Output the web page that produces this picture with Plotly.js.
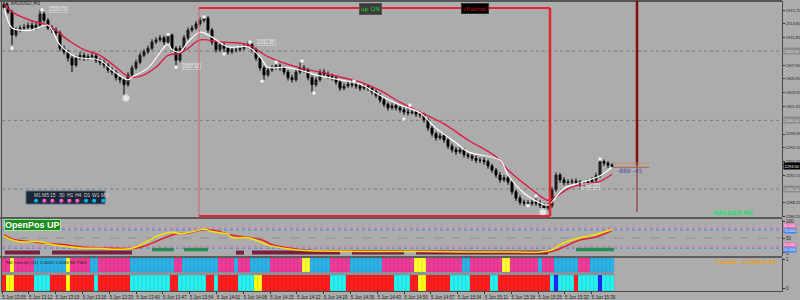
<!DOCTYPE html>
<html><head><meta charset="utf-8">
<script src="https://cdn.plot.ly/plotly-3.0.1.min.js"></script>
<style>html,body{margin:0;padding:0;background:#acacac;overflow:hidden}#chart{width:800px;height:300px}</style>
</head><body><div id="chart"></div>
<script>
// ---------- DATA ----------
const openP = [
2316.6,2316.1,2315.5,2312.2,2312.9,2313.2,2313.3,2313.6,2313.2,2313.6,
2315.2,2314.3,2313.2,2312.9,2312.5,2310.3,2309.8,2308.9,2307.9,2308.9,
2309.3,2308.9,2309.1,2309.2,2308.6,2308.3,2307.9,2307.2,2306.9,2306.1,
2305.8,2305.1,2306.5,2307.5,2308.3,2309.3,2309.8,2310.3,2311.2,2311.5,
2311.8,2311.2,2312.2,2310.3,2308.6,2310.3,2311.8,2312.9,2313.2,2313.8,
2314.3,2314.6,2312.9,2311.2,2310.1,2310.8,2310.3,2309.8,2310.1,2310.1,
2310.3,2310.6,2310.8,2310.1,2308.9,2307.5,2306.5,2307.2,2307.5,2307.8,
2307.5,2306.9,2306.1,2305.8,2306.9,2307.5,2307.2,2306.1,2305.1,2305.8,
2306.9,2306.6,2306.3,2306.1,2305.5,2304.6,2304.9,2305.2,2305.1,2304.9,
2304.6,2304.9,2304.6,2304.1,2303.6,2302.9,2302.3,2301.8,2302.1,2301.8,
2301.5,2301.2,2301.1,2301.2,2300.9,2300.8,2300.1,2298.9,2298.1,2297.5,
2297.8,2297.2,2296.3,2295.8,2295.5,2295.8,2295.1,2294.9,2294.6,2294.3,
2294.3,2294.1,2293.5,2292.9,2292.2,2291.5,2291.8,2291.2,2289.8,2288.9,
2288.3,2288.2,2288.1,2288.3,2288.2,2287.9,2287.5,2287.8,2290.1,2292.2,
2291.5,2291.1,2291.2,2291.3,2291.2,2290.9,2290.9,2291.2,2291.5,2292.1,
2294.1,2293.9,2293.6];
const closeP = [
2316.1,2315.5,2312.2,2312.9,2313.2,2313.3,2313.6,2313.2,2313.6,2315.2,
2314.3,2313.2,2312.9,2312.5,2310.3,2309.8,2308.9,2307.9,2308.9,2309.3,
2308.9,2309.1,2309.2,2308.6,2308.3,2307.9,2307.2,2306.9,2306.1,2305.8,
2305.1,2306.5,2307.5,2308.3,2309.3,2309.8,2310.3,2311.2,2311.5,2311.8,
2311.2,2312.2,2310.3,2308.6,2310.3,2311.8,2312.9,2313.2,2313.8,2314.3,
2314.6,2312.9,2311.2,2310.1,2310.8,2310.3,2309.8,2310.1,2310.1,2310.3,
2310.6,2310.8,2310.1,2308.9,2307.5,2306.5,2307.2,2307.5,2307.8,2307.5,
2306.9,2306.1,2305.8,2306.9,2307.5,2307.2,2306.1,2305.1,2305.8,2306.9,
2306.6,2306.3,2306.1,2305.5,2304.6,2304.9,2305.2,2305.1,2304.9,2304.6,
2304.9,2304.6,2304.1,2303.6,2302.9,2302.3,2301.8,2302.1,2301.8,2301.5,
2301.2,2301.1,2301.2,2300.9,2300.8,2300.1,2298.9,2298.1,2297.5,2297.8,
2297.2,2296.3,2295.8,2295.5,2295.8,2295.1,2294.9,2294.6,2294.3,2294.3,
2294.1,2293.5,2292.9,2292.2,2291.5,2291.8,2291.2,2289.8,2288.9,2288.3,
2288.2,2288.1,2288.3,2288.2,2287.9,2287.5,2287.8,2290.1,2292.2,2291.5,
2291.1,2291.2,2291.3,2291.2,2290.9,2290.9,2291.2,2291.5,2292.1,2294.1,
2293.9,2293.6,2293.5];
const highP = [
2316.9,2316.4,2315.8,2313.3,2313.6,2313.8,2314.0,2314.0,2314.1,2315.8,
2315.5,2314.6,2313.6,2313.3,2312.8,2310.7,2310.1,2309.2,2309.3,2309.8,
2309.7,2309.5,2309.6,2309.5,2308.9,2308.7,2308.2,2307.6,2307.2,2306.5,
2306.1,2306.9,2307.9,2308.7,2309.7,2310.2,2310.7,2311.6,2311.9,2312.2,
2312.1,2312.6,2312.4,2310.6,2310.7,2312.2,2313.3,2313.6,2314.2,2314.7,
2315.1,2314.9,2313.2,2311.5,2311.2,2311.1,2310.6,2310.5,2310.5,2310.7,
2311.0,2311.3,2311.1,2310.4,2309.2,2307.8,2307.6,2307.9,2308.4,2308.1,
2307.8,2307.2,2306.5,2307.3,2308.3,2307.9,2307.5,2306.4,2306.2,2307.3,
2307.3,2307.0,2306.7,2306.4,2305.8,2305.3,2305.6,2305.8,2305.5,2305.2,
2305.3,2305.2,2304.9,2304.4,2303.9,2303.2,2302.6,2302.5,2302.4,2302.1,
2301.9,2302.1,2301.6,2301.5,2301.3,2301.1,2300.4,2299.2,2298.4,2298.2,
2298.1,2297.5,2296.7,2296.2,2296.2,2296.1,2295.5,2295.3,2295.0,2294.7,
2294.7,2294.4,2293.8,2293.2,2292.6,2292.2,2292.1,2291.5,2290.1,2289.3,
2288.7,2288.6,2288.7,2289.2,2288.6,2288.2,2288.2,2290.5,2292.6,2292.5,
2291.9,2291.6,2291.7,2291.7,2291.5,2291.3,2291.6,2291.9,2292.5,2294.6,
2294.4,2294.2,2293.9];
const lowP = [
2315.8,2315.2,2310.8,2311.9,2312.6,2312.8,2313.0,2312.8,2312.9,2313.3,
2314.0,2312.9,2312.5,2312.1,2309.9,2309.4,2308.4,2306.9,2307.6,2308.6,
2308.5,2308.6,2308.8,2308.2,2307.9,2307.5,2306.8,2306.5,2305.7,2305.3,
2303.5,2304.8,2306.2,2307.2,2308.0,2309.0,2309.5,2310.0,2310.9,2311.2,
2310.8,2310.9,2309.9,2307.8,2308.3,2310.0,2311.5,2312.6,2312.9,2313.5,
2314.0,2312.5,2310.8,2309.7,2309.8,2309.3,2309.4,2309.5,2309.7,2309.8,
2310.0,2310.3,2309.7,2308.5,2307.1,2305.8,2306.2,2306.9,2307.2,2307.1,
2306.5,2305.7,2305.4,2305.5,2306.6,2306.8,2305.7,2304.1,2304.8,2305.5,
2306.2,2305.9,2305.7,2305.1,2304.2,2304.3,2304.6,2304.7,2304.5,2304.2,
2304.3,2304.2,2303.7,2303.2,2302.5,2301.9,2301.4,2301.5,2301.4,2301.1,
2300.8,2300.7,2300.8,2300.5,2300.4,2299.7,2298.5,2297.7,2297.1,2297.2,
2296.8,2295.9,2295.4,2295.1,2295.2,2294.7,2294.5,2294.2,2293.9,2293.9,
2293.7,2293.1,2292.5,2291.8,2291.1,2291.2,2290.8,2289.4,2288.5,2287.9,
2287.8,2287.6,2287.8,2287.8,2287.5,2286.9,2287.2,2287.5,2289.8,2291.1,
2290.7,2290.8,2290.9,2290.8,2290.5,2290.5,2290.8,2291.1,2291.2,2291.8,
2293.5,2293.2,2293.2];

// moving averages
const maFastIdx = [0,2,4,7,11,14,18,24,27,31,32,36,41,42,44,46,49,52,56,61,64,66,70,74,78,84,89,94,99,104,108,113,116,124,126,130,134,136,140,143,149,152];
const maFastVal = [2316.1,2313.2,2312.9,2312.9,2313.6,2310.8,2309.1,2308.6,2307.2,2305.8,2306.2,2307.5,2310.9,2310.1,2309.8,2311.2,2312.6,2311.9,2310.5,2310.5,2309.1,2307.6,2307.6,2307.2,2306.5,2305.8,2305.2,2303.6,2302.2,2301.1,2298.9,2296.8,2295.5,2294.3,2292.2,2289.6,2288.2,2287.9,2290.3,2290.9,2292.1,2293.3];
const maSlowIdx = [0,2,7,11,16,20,24,28,31,34,38,41,44,46,49,54,61,66,70,74,79,84,89,94,99,104,110,116,123,126,132,136,138,142,149,152];
const maSlowVal = [2316.6,2315.5,2314.2,2313.6,2311.5,2310.1,2309.3,2307.6,2306.3,2306.3,2307.6,2309.3,2309.6,2310.3,2311.5,2311.2,2310.8,2309.1,2308.2,2307.5,2306.9,2306.2,2305.5,2304.3,2302.6,2301.2,2299.5,2297.2,2294.8,2292.9,2290.1,2288.6,2289.1,2290.5,2291.3,2292.3];

// fractal markers
const fractalIdx = [2,9.5,41,43,50,55,61.5,64.5,68,74.5,77.5,87.5,100,101.5,131,133,149];
const fractalPrice = [2310.3,2315.8,2312.3,2307.6,2314.8,2309.5,2311.2,2305.6,2308.3,2308.5,2303.9,2305.6,2300.2,2302.2,2287.8,2289.2,2294.5];
const bigMarkIdx = [30.5,134.75];
const bigMarkPrice = [2303.2,2286.9];
const priceNotes = [[13.5,2315.8,'2315.79'],[46.8,2307.7,'2307.62'],[65.6,2311.2,'2311.35'],[146.5,2290.6,'2291.22']];

// oscillator (panel 2)
const oscYellowIdx = [0,1,4,9,12,16,20,24,28,32,35,38,42,44,47,50,52,56,57,61,64,66,70,75,85,95,105,115,125,134,137,139,142,145,149,152];
const oscYellowVal = [56,49,39,39,31,24,20,20,17,20,34,54,67,62,68,76,69,61,51,51,39,29,20,13,11,10,10,9,9,9,15,30,44,53,64,74];
const oscRedIdx = [0,2,9,16,20,28,33,36,40,43,46,50,53,57,61,65,67,71,76,90,110,134,137,140,144,148,152];
const oscRedVal = [60,47,36,29,23,20,20,30,50,62,64,74,71,58,52,42,30,21,14,12,11,7,10,24,44,53,72];
const sigMaroon = [[0.2,9],[12,32],[58,60],[62,84],[87,100],[103,136]];
const sigGreen = [[37,42.5],[45,51],[143,152.5]];
const levelMaroon = 7, levelGreen = 16;
const oscLevels = [[80,'#ea68b0','80.0000',1.5],[74,'#3f86ea','74.0000',-1.5],[26,'#ea68b0','26.0000',1.5],[20,'#3f86ea','20.0000',-1.5]];

// colour strips (panel 3), run-length per candle
const upperRuns = [['P',2],['Y',1],['P',5],['B',8],['Y',1],['P',5],['B',2],['P',8],['B',11],['P',2],['B',9],['P',4],['B',1],['P',3],['B',5],['P',8],['Y',2],['B',5],['P',5],['B',8],['P',8],['Y',3],['P',9],['B',2],['P',8],['Y',2],['P',7],['B',1],['P',3],['B',6],['P',3],['B',6]];
const lowerRuns = [['R',1],['Y',2],['R',5],['C',4],['R',4],['Y',1],['R',6],['C',1],['R',8],['C',10],['R',2],['C',7],['R',2],['C',1],['R',5],['C',4],['Y',2],['R',17],['C',4],['R',12],['C',4],['R',2],['Y',2],['R',6],['C',5],['R',5],['C',2],['R',13],['C',1],['D',1],['C',4],['R',1],['C',5],['D',1],['C',3]];

// axis labels
const priceTicks = [2315.75,2313.80,2311.85,2309.90,2307.90,2305.95,2303.95,2301.95,2300.00,2298.05,2296.10,2294.15,2292.15,2290.20,2288.25,2286.25];
const gridPrices = [2309.90,2300.00,2290.20];
const lastPrice = 2293.50;
const timeLabels = ['5 Jun 13:05','5 Jun 13:12','5 Jun 13:19','5 Jun 13:26','5 Jun 13:33','5 Jun 13:40','5 Jun 13:47','5 Jun 13:54','5 Jun 14:01','5 Jun 14:08','5 Jun 14:15','5 Jun 14:22','5 Jun 14:29','5 Jun 14:36','5 Jun 14:43','5 Jun 14:50','5 Jun 14:57','5 Jun 15:04','5 Jun 15:11','5 Jun 15:18','5 Jun 15:25','5 Jun 15:32','5 Jun 15:39'];
const tfLabels = ['M1','M5','15','30','H1','H4','D1','W1','MN'];
const tfState = ['B','P','P','P','P','P','B','B','B'];

// ---------- BUILD ----------
const idx = closeP.map((_, i) => i);
const expand = runs => { const o = []; runs.forEach(([c, k]) => { for (let j = 0; j < k; j++) o.push(c); }); return o; };
const upperCodes = expand(upperRuns), lowerCodes = expand(lowerRuns);
const upCol = {P:'#f03c98', B:'#2cb3ea', Y:'#ffff2e'};
const loCol = {R:'#ff1e1e', C:'#28f0f0', Y:'#ffff14', D:'#2424ff'};
const segXY = (segs, lvl) => { const xs = [], ys = []; segs.forEach(([a, b]) => { xs.push(a, b, null); ys.push(lvl, lvl, null); }); return {xs, ys}; };
const mar = segXY(sigMaroon, levelMaroon), grn = segXY(sigGreen, levelGreen);

const xp = px => (px - 2) / 780;         // pixel -> paper x
const yp = py => (291 - py) / 290;       // pixel -> paper y

const traces = [
  {type:'candlestick', x:idx, open:openP, high:highP, low:lowP, close:closeP, xaxis:'x', yaxis:'y',
   increasing:{line:{color:'#161616', width:1}, fillcolor:'#262626'},
   decreasing:{line:{color:'#000', width:1}, fillcolor:'#000'}, whiskerwidth:0, hoverinfo:'skip'},
  {type:'scatter', mode:'lines', x:maSlowIdx, y:maSlowVal, xaxis:'x', yaxis:'y', line:{color:'#dc1d45', width:1.4, shape:'spline', smoothing:1}, hoverinfo:'skip'},
  {type:'scatter', mode:'lines', x:maFastIdx, y:maFastVal, xaxis:'x', yaxis:'y', line:{color:'#ffffff', width:1.2, shape:'spline', smoothing:1}, hoverinfo:'skip'},
  {type:'scatter', mode:'markers', x:fractalIdx, y:fractalPrice, xaxis:'x', yaxis:'y', marker:{size:4, color:'#f6f6f6', line:{color:'#999', width:0.5}}, hoverinfo:'skip'},
  {type:'scatter', mode:'markers', x:bigMarkIdx, y:bigMarkPrice, xaxis:'x', yaxis:'y', marker:{size:7, color:'#e4e4e4', line:{color:'#c4c4c4', width:1}}, hoverinfo:'skip'},
  {type:'scatter', mode:'lines', x:mar.xs, y:mar.ys, xaxis:'x', yaxis:'y2', line:{color:'#7a1f42', width:4}, connectgaps:false, hoverinfo:'skip'},
  {type:'scatter', mode:'lines', x:grn.xs, y:grn.ys, xaxis:'x', yaxis:'y2', line:{color:'#2a8c55', width:3.5}, connectgaps:false, hoverinfo:'skip'},
  {type:'scatter', mode:'lines', x:oscRedIdx, y:oscRedVal, xaxis:'x', yaxis:'y2', line:{color:'#e4202c', width:1.5, shape:'spline'}, hoverinfo:'skip'},
  {type:'scatter', mode:'lines', x:oscYellowIdx, y:oscYellowVal, xaxis:'x', yaxis:'y2', line:{color:'#f2e400', width:1.5, shape:'spline'}, hoverinfo:'skip'},
  {type:'bar', x:idx, y:idx.map(() => 14), base:19, width:1, xaxis:'x', yaxis:'y3', marker:{color:upperCodes.map(c => upCol[c]), line:{width:0.6, color:'rgba(0,0,0,0.13)'}}, hoverinfo:'skip'},
  {type:'bar', x:idx, y:idx.map(() => 16), base:0, width:1, xaxis:'x', yaxis:'y3', marker:{color:lowerCodes.map(c => loCol[c]), line:{width:0.6, color:'rgba(0,0,0,0.13)'}}, hoverinfo:'skip'}
];

const tickvals = timeLabels.map((_, k) => -0.5 + 6.7 * k);
const TF = 'Liberation Sans, Arial, sans-serif';
const axCommon = {showgrid:false, zeroline:false, showline:true, mirror:true, linecolor:'#4a4a4a', linewidth:1, ticks:'outside', ticklen:2, tickcolor:'#333', side:'right', anchor:'x', fixedrange:true, automargin:false};
const mainTicks = priceTicks.filter(v => !gridPrices.includes(v));

const shapes = [];
gridPrices.forEach(p => shapes.push({type:'line', xref:'paper', yref:'y', x0:0, x1:1, y0:p, y1:p, line:{color:'#7c7c7c', width:1, dash:'dot'}, layer:'below'}));
oscLevels.forEach(([v, c]) => shapes.push({type:'line', xref:'paper', yref:'y2', x0:0, x1:1, y0:v, y1:v, line:{color:c, width:1, dash:'dot'}, layer:'below'}));
shapes.push({type:'line', xref:'paper', yref:'y2', x0:0, x1:1, y0:50, y1:50, line:{color:'#8e8e8e', width:1, dash:'dash'}, layer:'below'});
shapes.push({type:'rect', xref:'paper', yref:'paper', x0:-0.003, x1:1, y0:yp(219), y1:yp(217), fillcolor:'#5a5a5a', line:{width:0}});
shapes.push({type:'rect', xref:'paper', yref:'paper', x0:-0.003, x1:1, y0:yp(258), y1:yp(256), fillcolor:'#5e5e5e', line:{width:0}});
shapes.push({type:'rect', xref:'x', yref:'y3', x0:-0.5, x1:152.5, y0:16, y1:19, fillcolor:'#8a919c', line:{width:0}});
shapes.push({type:'line', xref:'paper', yref:'paper', x0:-0.003, x1:1, y0:1, y1:1, line:{color:'#555', width:2}});
const bx0 = 48.75, bx1 = 136.5, byTop = 2316.06, byBot = 2286.34;
shapes.push({type:'line', xref:'x', yref:'y', x0:bx0, x1:bx0, y0:byBot, y1:byTop, line:{color:'#e05a66', width:1}});
shapes.push({type:'line', xref:'x', yref:'y', x0:bx0, x1:bx1, y0:byTop, y1:byTop, line:{color:'#e3262f', width:2}});
shapes.push({type:'line', xref:'x', yref:'y', x0:bx0, x1:bx1, y0:byBot, y1:byBot, line:{color:'#e3262f', width:2}});
shapes.push({type:'line', xref:'x', yref:'y', x0:bx1, x1:bx1, y0:byBot, y1:byTop, line:{color:'#e3262f', width:2.5}});
shapes.push({type:'line', xref:'x', yref:'paper', x0:158.25, x1:158.25, y0:yp(165), y1:1, line:{color:'#860c0c', width:2.5}});
shapes.push({type:'line', xref:'x', yref:'paper', x0:158.25, x1:158.25, y0:yp(212), y1:yp(165), line:{color:'#8b2020', width:1}});
shapes.push({type:'line', xref:'x', yref:'y', x0:152.25, x1:161.25, y0:2293.9, y1:2293.9, line:{color:'#c4906c', width:1}});
shapes.push({type:'line', xref:'x', yref:'y', x0:152.25, x1:161.25, y0:2293.3, y1:2293.3, line:{color:'#b0643c', width:1}});
shapes.push({type:'rect', xref:'paper', yref:'paper', x0:xp(26), x1:xp(105), y0:yp(204), y1:yp(191), fillcolor:'#1b2636', line:{color:'#5f6e7e', width:1}});

const ann = [];
const F = 'DejaVu Sans, sans-serif';
gridPrices.forEach(p => ann.push({xref:'paper', yref:'y', x:1, y:p, xanchor:'left', yanchor:'middle', xshift:1, text:p.toFixed(2), showarrow:false, bgcolor:'#8c8c8c', borderpad:0.5, font:{size:4, color:'#e0e0e0', family:TF}}));
ann.push({xref:'paper', yref:'y', x:1, y:lastPrice, xanchor:'left', yanchor:'middle', xshift:1, text:lastPrice.toFixed(2), showarrow:false, bgcolor:'#000', borderpad:0.5, font:{size:4, color:'#fff', family:TF}});
oscLevels.forEach(([v, c, t, s]) => ann.push({xref:'paper', yref:'y2', x:1, y:v, xanchor:'left', yanchor:'middle', xshift:1, yshift:s, text:t, showarrow:false, bgcolor:c, borderpad:0, font:{size:3.2, color:'#fff', family:TF}}));
priceNotes.forEach(([i, p, t]) => ann.push({xref:'x', yref:'y', x:i, y:p, text:t, showarrow:false, bordercolor:'#d6d6d6', borderwidth:0.6, borderpad:0.5, font:{size:4.5, color:'#ececec', family:TF}}));
ann.push({xref:'paper', yref:'paper', x:xp(3), y:yp(3.5), xanchor:'left', yanchor:'middle', text:'▲ XAUUSD,M1', showarrow:false, font:{size:5, color:'#1a1a1a', family:F}});
ann.push({xref:'paper', yref:'paper', x:xp(370.5), y:yp(3.5), text:'up ON', showarrow:false, bgcolor:'#3a3a3a', bordercolor:'#555', borderwidth:1, borderpad:1, font:{size:6, color:'#22d044', family:F}});
ann.push({xref:'paper', yref:'paper', x:xp(475.5), y:yp(3.5), text:'channel', showarrow:false, bgcolor:'#000', bordercolor:'#333', borderwidth:1, borderpad:1, font:{size:6, color:'#d01414', family:F}});
ann.push({xref:'x', yref:'y', x:156.5, y:2292.8, text:'-889 -45', showarrow:false, font:{size:6, color:'#4a4ab4', family:F}});
ann.push({xref:'paper', yref:'paper', x:xp(755), y:yp(212), xanchor:'right', yanchor:'middle', text:'<b>XAUUSD M1</b>', showarrow:false, font:{size:6, color:'#12e66a', family:F}});
ann.push({xref:'paper', yref:'paper', x:xp(4), y:yp(225.5), xanchor:'left', yanchor:'middle', text:'<b>OpenPos UP</b>', showarrow:false, bgcolor:'#1e8c1e', bordercolor:'#9be29b', borderwidth:1, borderpad:0, font:{size:9, color:'#fff', family:'Liberation Sans, sans-serif'}});
ann.push({xref:'paper', yref:'paper', x:xp(4), y:yp(262), xanchor:'left', yanchor:'middle', text:'RSI ma+ref (14) 1.0000 1.0000 50.7963', showarrow:false, font:{size:4, color:'#1e1e1e', family:F}});
ann.push({xref:'paper', yref:'paper', x:xp(779), y:yp(262), xanchor:'right', yanchor:'middle', text:'<b>Candle:  0.000:0.45</b>', showarrow:false, font:{size:5.5, color:'#eaa020', family:F}});
const tfX = [31.7,40,48.3,56.7,65,73.3,81.7,90,98.7];
tfLabels.forEach((t, k) => {
  ann.push({xref:'paper', yref:'paper', x:xp(tfX[k]), y:yp(194.5), yanchor:'middle', text:t, showarrow:false, font:{size:5, color:'#d4d4d4', family:TF}});
  ann.push({xref:'paper', yref:'paper', x:xp(tfX[k]), y:yp(200), yanchor:'middle', text:'●', showarrow:false, font:{size:5, color: tfState[k] === 'B' ? '#08b4f0' : '#ff62d8', family:F}});
});

const layout = {
  width:800, height:300, margin:{l:2, r:18, t:1, b:9, pad:0},
  paper_bgcolor:'#acacac', plot_bgcolor:'#acacac', showlegend:false,
  font:{family:F, size:5, color:'#1e1e1e'},
  barmode:'overlay', bargap:0,
  xaxis:{domain:[0,1], range:[-0.5,194.5], anchor:'y3', rangeslider:{visible:false}, showgrid:false, zeroline:false,
         showline:true, linecolor:'#4a4a4a', linewidth:1, ticks:'outside', ticklen:2, tickcolor:'#333', automargin:false,
         tickmode:'array', tickvals:tickvals, ticktext:timeLabels, tickfont:{size:4.5, color:'#222', family:TF}, ticklabelshift:12, fixedrange:true},
  yaxis:Object.assign({}, axCommon, {domain:[yp(217),1], range:[2286.2,2317.06], tickmode:'array', tickvals:mainTicks, ticktext:mainTicks.map(v => v.toFixed(2)), tickfont:{size:4, color:'#1e1e1e', family:TF}}),
  yaxis2:Object.assign({}, axCommon, {domain:[yp(256),yp(219)], range:[-2.94,105.9], tickmode:'array', tickvals:[100,50,6], ticktext:['100','50','0'], tickfont:{size:4.5, color:'#1e1e1e', family:TF}}),
  yaxis3:Object.assign({}, axCommon, {domain:[0,yp(258)], range:[0,33], tickmode:'array', tickvals:[31.5,3], ticktext:['1','0'], tickfont:{size:4.5, color:'#1e1e1e', family:TF}}),
  shapes:shapes, annotations:ann
};

Plotly.newPlot('chart', traces, layout, {staticPlot:true, displayModeBar:false});
</script></body></html>
